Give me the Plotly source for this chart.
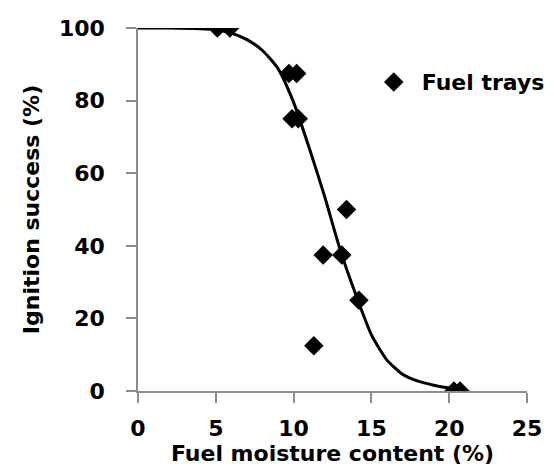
import plotly.graph_objects as go

# Observed data (fuel trays)
moisture = [5.1, 5.9, 9.7, 10.2, 9.9, 10.3, 13.4, 11.9, 13.1, 14.2, 11.3, 20.3, 20.7]
ignition = [100, 100, 87.5, 87.5, 75, 75, 50, 37.5, 37.5, 25, 12.5, 0, 0]

# Fitted curve
curve_x = [0, 2, 4, 5, 6, 7, 8, 9, 10, 11, 12, 13, 14, 15, 16, 17, 18, 19, 20, 20.7]
curve_y = [100, 100, 99.8, 99.5, 98.6, 96.8, 93.8, 88.8, 79.5, 67, 53.5, 38.8, 26.5,
           15.5, 8.5, 4.6, 2.7, 1.6, 0.8, 0.4]

x_ticks = [0, 5, 10, 15, 20, 25]
y_ticks = [0, 20, 40, 60, 80, 100]

FONT = "DejaVu Sans"
axis_color = "#8c8c8c"

fig = go.Figure()
fig.add_trace(go.Scatter(
    x=curve_x, y=curve_y, mode="lines",
    line=dict(color="black", width=3, shape="spline", smoothing=0.6),
    showlegend=False, hoverinfo="skip",
))
fig.add_trace(go.Scatter(
    x=moisture, y=ignition, mode="markers", name="Fuel trays",
    marker=dict(symbol="diamond", size=15, color="black"),
))

fig.update_layout(
    width=546, height=464,
    margin=dict(l=130, r=27, t=20, b=81, autoexpand=False),
    paper_bgcolor="white", plot_bgcolor="white",
    font=dict(family=FONT, size=22, color="black", weight="bold"),
    legend=dict(x=0.5855, y=0.851, xanchor="left", yanchor="middle",
                itemwidth=46,
                bgcolor="rgba(0,0,0,0)",
                font=dict(family=FONT, size=22, color="black", weight="bold")),
)
fig.update_xaxes(
    range=[0, 25], tickvals=x_ticks, ticktext=[str(v) for v in x_ticks],
    showgrid=False, zeroline=False, showline=True, linecolor=axis_color, linewidth=1.5,
    ticks="outside", ticklen=10, tickcolor=axis_color, tickwidth=1.5,
    ticklabelstandoff=7, automargin=False,
    title=dict(text="Fuel moisture content (%)", standoff=3,
               font=dict(family=FONT, size=22, weight="bold")),
)
fig.update_yaxes(
    range=[0, 100], tickvals=y_ticks, ticktext=[str(v) for v in y_ticks],
    showgrid=False, zeroline=False, showline=True, linecolor=axis_color, linewidth=1.5,
    ticks="outside", ticklen=10, tickcolor=axis_color, tickwidth=1.5,
    ticklabelstandoff=17, automargin=False,
    title=dict(text="Ignition success (%)", standoff=13,
               font=dict(family=FONT, size=22, weight="bold")),
)

fig.write_html("out.html")
